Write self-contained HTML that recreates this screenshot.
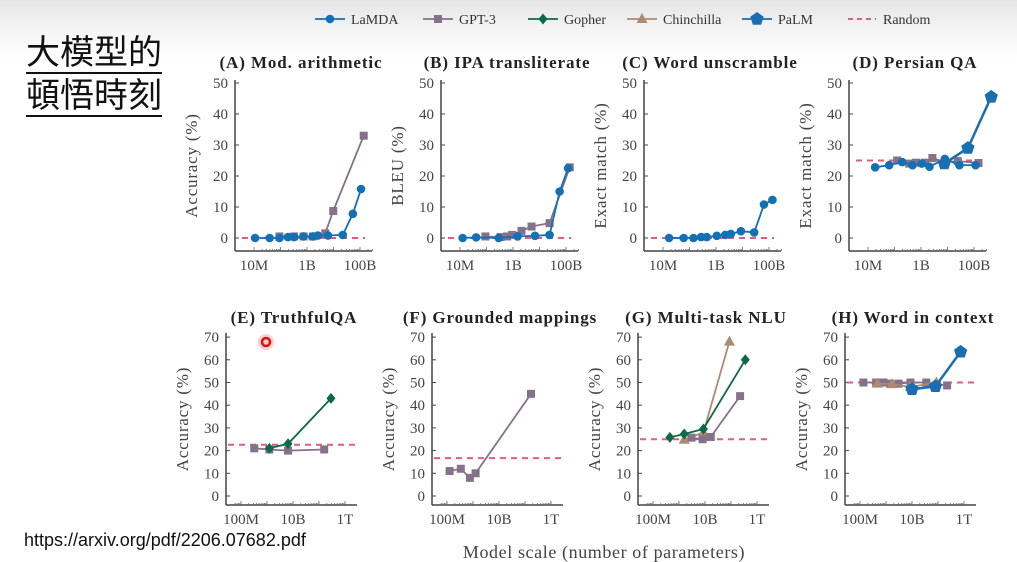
<!DOCTYPE html>
<html><head><meta charset="utf-8">
<style>
body{margin:0;width:1017px;height:562px;overflow:hidden;background:linear-gradient(#e6e6e6 0px,#f6f6f6 35px,#fff 60px,#fff 100%);font-family:"Liberation Serif",serif;position:relative}
.zh{position:absolute;left:26px;font-family:"Liberation Sans","Noto Sans CJK TC",sans-serif;font-size:34px;line-height:36px;color:#111;letter-spacing:0px;border-bottom:2px solid #111;padding-bottom:1px}
#url{position:absolute;left:24px;top:530px;font-family:"Liberation Sans",sans-serif;font-size:18px;color:#111}
svg{position:absolute;left:0;top:0}
</style></head><body>
<div class="zh" style="top:35px">大模型的</div>
<div class="zh" style="top:78px">頓悟時刻</div>
<div id="url">https://arxiv.org/pdf/2206.07682.pdf</div>
<svg id="chart" width="1017" height="562"></svg>
<script>
// data: x = log10(parameters), y = percent
const A_LaMDA_x=[7.04,7.59,7.96,8.28,8.51,8.87,9.22,9.41,9.79,10.35,10.73,11.04];
const A_LaMDA_y=[0,0,0,0.3,0.3,0.5,0.5,0.8,0.8,1,7.8,15.8];
const A_GPT3_x=[7.96,8.51,8.87,9.22,9.69,9.99,11.14];
const A_GPT3_y=[0.5,0.5,0.5,0.5,1.5,8.7,33];
const B_LaMDA_x=[7.1,7.61,8.46,9.17,9.83,10.38,10.76,11.08];
const B_LaMDA_y=[0,0.2,0,0.5,0.7,1,15,22.5];
const B_GPT3_x=[7.96,8.53,8.78,8.97,9.32,9.70,10.38,11.14];
const B_GPT3_y=[0.5,0.3,0.5,1,2.3,3.7,4.8,22.8];
const C_LaMDA_x=[7.23,7.78,8.15,8.44,8.65,9.03,9.35,9.56,9.94,10.44,10.81,11.13];
const C_LaMDA_y=[0,0,0,0.3,0.3,0.7,1,1.3,2.2,1.8,10.8,12.3];
const D_LaMDA_x=[7.27,7.8,8.29,8.68,9.03,9.32,9.9,10.45,11.06];
const D_LaMDA_y=[22.8,23.5,24.5,23.5,24,23,25.5,23.5,23.5];
const D_GPT3_x=[8.1,8.55,8.81,9.15,9.43,9.9,10.39,11.17];
const D_GPT3_y=[25,24,24.3,24.3,25.8,24.5,24.8,24.2];
const D_PaLM_x=[9.88,10.77,11.65];
const D_PaLM_y=[24,29,45.5];
const E_GPT3_x=[8.51,9.09,9.81,11.2];
const E_GPT3_y=[21,20.5,20,20.5];
const E_Gopher_x=[9.09,9.81,11.46];
const E_Gopher_y=[21,23,43];
const F_GPT3_x=[8.1,8.53,8.88,9.1,11.23];
const F_GPT3_y=[11,12,8,10,45];
const G_Gopher_x=[8.65,9.2,9.94,11.55];
const G_Gopher_y=[25.8,27.3,29.5,60];
const G_Chin_x=[9.2,9.94,10.94];
const G_Chin_y=[24.8,28,68];
const G_GPT3_x=[9.48,9.91,10.22,11.35];
const G_GPT3_y=[25.7,25,26,44];
const H_GPT3_x=[8.13,8.62,8.9,9.16,9.48,9.94,10.55,11.35];
const H_GPT3_y=[50,50,50,49.5,49.5,50,50,48.7];
const H_Chin_x=[8.67,9.23,9.94,10.94];
const H_Chin_y=[49.5,49.3,48,50];
const H_PaLM_x=[10,10.9,11.87];
const H_PaLM_y=[47,48.3,63.5];
const randomLevels=[0,0,0,25,22.6,16.7,25,50];
const titles=["(A) Mod. arithmetic","(B) IPA transliterate","(C) Word unscramble","(D) Persian QA","(E) TruthfulQA","(F) Grounded mappings","(G) Multi-task NLU","(H) Word in context"];
const ylabels=["Accuracy (%)","BLEU (%)","Exact match (%)","Exact match (%)","Accuracy (%)","Accuracy (%)","Accuracy (%)","Accuracy (%)"];
const topTicks=[0,10,20,30,40,50], botTicks=[0,10,20,30,40,50,60,70];
const topXLabels=[[7,"10M"],[9,"1B"],[11,"100B"]], botXLabels=[[8,"100M"],[10,"10B"],[12,"1T"]];

const C={LaMDA:"#1270b5",GPT3:"#857189",Gopher:"#0d6a47",Chin:"#ad8a72",PaLM:"#1a6fb3",Rand:"#e45a80"};
const svg=document.getElementById('chart');const NS="http://www.w3.org/2000/svg";
function mk(t,a,p){const e=document.createElementNS(NS,t);for(const k in a)e.setAttribute(k,a[k]);(p||svg).appendChild(e);return e;}
const offs=[0,206,409,614];
function panelGeom(i){
  if(i<4){const o=offs[i];return {ax:235+o,xs:l=>254+o+(l-7)*26.5,ys:v=>238-v*3.1,xEnd:372+o,yBase:251,yTop:80,ticks:topTicks,xl:topXLabels,minL:7,maxL:11.5,ty:68,rx0:242+o,rx1:365+o};}
  const o=[0,206,412,619][i-4];return {ax:226+o,xs:l=>241+o+(l-8)*26,ys:v=>496-v*2.27,xEnd:357+o,yBase:505,yTop:333,ticks:botTicks,xl:botXLabels,minL:7.7,maxL:12.2,ty:323,rx0:228+o,rx1:358+o};
}
function marker(g,type,x,y,col){
  let e;
  if(type==="circle")e=mk('circle',{cx:x,cy:y,r:4.3,fill:col},g);
  else if(type==="square")e=mk('rect',{x:x-4,y:y-4,width:8,height:8,fill:col},g);
  else if(type==="diamond")e=mk('polygon',{points:`${x},${y-5.5} ${x+4.5},${y} ${x},${y+5.5} ${x-4.5},${y}`,fill:col},g);
  else if(type==="tri")e=mk('polygon',{points:`${x},${y-6} ${x+5.5},${y+4} ${x-5.5},${y+4}`,fill:col},g);
  else {let p=[];for(let k=0;k<5;k++){const a=-Math.PI/2+k*2*Math.PI/5;p.push((x+7*Math.cos(a)).toFixed(1)+","+(y+7*Math.sin(a)).toFixed(1));}e=mk('polygon',{points:p.join(" "),fill:col},g);}
  
  
}
function series(i,xs,ys,type,col,name,w){
  const G=panelGeom(i);const g=mk('g',{});
  
  
  const pts=xs.map((l,k)=>G.xs(l).toFixed(1)+","+G.ys(ys[k]).toFixed(1)).join(" ");
  mk('polyline',{points:pts,fill:"none",stroke:col,"stroke-width":w||1.8},g);
  xs.forEach((l,k)=>marker(g,type,G.xs(l),G.ys(ys[k]),col));
}
for(let i=0;i<8;i++){
  const G=panelGeom(i);const g=mk('g',{});
  
  
  const t=mk('text',{x:G.ax+(i<4?66:68),y:G.ty,"text-anchor":"middle","font-size":"17","font-weight":"bold","letter-spacing":"0.9",fill:"#222"},g);t.textContent=titles[i];
  
  
  mk('line',{x1:G.ax,y1:G.yTop,x2:G.ax,y2:G.yBase,stroke:"#444","stroke-width":1.5},g);
  mk('line',{x1:G.ax,y1:G.yBase,x2:G.xEnd,y2:G.yBase,stroke:"#444","stroke-width":1.5},g);
  G.ticks.forEach(v=>{const y=G.ys(v);mk('line',{x1:G.ax,y1:y,x2:G.ax+4,y2:y,stroke:"#444"},g);
    const tx=mk('text',{x:G.ax-7,y:y+5,"text-anchor":"end","font-size":"15",fill:"#444"},g);tx.textContent=v;
    
    });
  for(let d=Math.floor(G.minL);d<=G.maxL;d++){for(let m=1;m<10;m++){const l=d+Math.log10(m);if(l<G.minL||l>G.maxL)continue;const x=G.xs(l);mk('line',{x1:x,y1:G.yBase,x2:x,y2:G.yBase-(m===1?4:2),stroke:"#666","stroke-width":0.8},g);}}
  G.xl.forEach(([l,s])=>{const tx=mk('text',{x:G.xs(l),y:G.yBase+19,"text-anchor":"middle","font-size":"15",fill:"#444"},g);tx.textContent=s;
    
    });
  const mid=(G.yTop+G.yBase)/2;
  const yl=mk('text',{x:G.ax-38,y:mid,transform:`rotate(-90 ${G.ax-38} ${mid})`,"text-anchor":"middle","font-size":"17","letter-spacing":"0.8",fill:"#444"},g);yl.textContent=ylabels[i];
  
  
  const ry=G.ys(randomLevels[i]);
  const rl=mk('line',{x1:G.rx0,y1:ry,x2:G.rx1,y2:ry,stroke:C.Rand,"stroke-width":2,"stroke-dasharray":"6,5"},g);
  
  
}
series(0,A_GPT3_x,A_GPT3_y,"square",C.GPT3,"gpt3-series");
series(0,A_LaMDA_x,A_LaMDA_y,"circle",C.LaMDA,"lamda-series");
series(1,B_GPT3_x,B_GPT3_y,"square",C.GPT3,"gpt3-series");
series(1,B_LaMDA_x,B_LaMDA_y,"circle",C.LaMDA,"lamda-series");
series(2,C_LaMDA_x,C_LaMDA_y,"circle",C.LaMDA,"lamda-series");
series(3,D_GPT3_x,D_GPT3_y,"square",C.GPT3,"gpt3-series");
series(3,D_LaMDA_x,D_LaMDA_y,"circle",C.LaMDA,"lamda-series");
series(3,D_PaLM_x,D_PaLM_y,"penta",C.PaLM,"palm-series",2.5);
series(4,E_GPT3_x,E_GPT3_y,"square",C.GPT3,"gpt3-series");
series(4,E_Gopher_x,E_Gopher_y,"diamond",C.Gopher,"gopher-series");
series(5,F_GPT3_x,F_GPT3_y,"square",C.GPT3,"gpt3-series");
series(6,G_Chin_x,G_Chin_y,"tri",C.Chin,"chinchilla-series");
series(6,G_GPT3_x,G_GPT3_y,"square",C.GPT3,"gpt3-series");
series(6,G_Gopher_x,G_Gopher_y,"diamond",C.Gopher,"gopher-series");
series(7,H_GPT3_x,H_GPT3_y,"square",C.GPT3,"gpt3-series");
series(7,H_Chin_x,H_Chin_y,"tri",C.Chin,"chinchilla-series");
series(7,H_PaLM_x,H_PaLM_y,"penta",C.PaLM,"palm-series",2.5);
const cur=mk('g',{});


mk('circle',{cx:266,cy:342,r:8,fill:"#ffb0b0",opacity:0.6},cur);
mk('circle',{cx:266,cy:342,r:4,fill:"none",stroke:"#e01010","stroke-width":2.5},cur);
const leg=[["LaMDA",320,"circle",C.LaMDA],["GPT-3",428,"square",C.GPT3],["Gopher",533,"diamond",C.Gopher],["Chinchilla",632,"tri",C.Chin],["PaLM",747,"penta",C.PaLM]];
leg.forEach(([n,x,t,c])=>{const g=mk('g',{});
  
  
  mk('line',{x1:x-5,y1:19,x2:x+25,y2:19,stroke:c,"stroke-width":1.8},g);
  marker(g,t,x+10,19,c);
  const tx=mk('text',{x:x+31,y:24,"font-size":"14",fill:"#333"},g);tx.textContent=n;});
const lg=mk('g',{});


mk('line',{x1:848,y1:19,x2:876,y2:19,stroke:C.Rand,"stroke-width":2,"stroke-dasharray":"5,4"},lg);
const rt=mk('text',{x:883,y:24,"font-size":"14",fill:"#333"},lg);rt.textContent="Random";
const xt=mk('text',{x:604,y:558,"text-anchor":"middle","font-size":"18","letter-spacing":"0.6",fill:"#444"});xt.textContent="Model scale (number of parameters)";


</script>
</body></html>
